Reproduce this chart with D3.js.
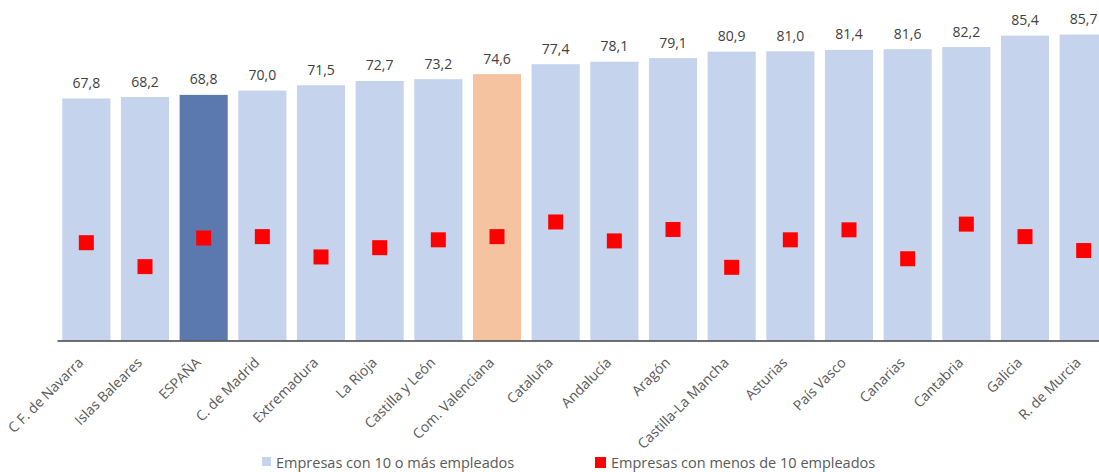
<!DOCTYPE html>
<html><head><meta charset="utf-8">
<script src="https://cdn.jsdelivr.net/npm/d3@7"></script>
<style>body{margin:0;background:#fff;} svg{display:block;}</style>
</head><body>
<svg id="c" width="1099" height="472"></svg>
<script>
const categories = ["C F. de Navarra","Islas Baleares","ESPAÑA","C. de Madrid","Extremadura","La Rioja","Castilla y León","Com. Valenciana","Cataluña","Andalucía","Aragón","Castilla-La Mancha","Asturias","País Vasco","Canarias","Cantabria","Galicia","R. de Murcia"];
const big = [67.8,68.2,68.8,70.0,71.5,72.7,73.2,74.6,77.4,78.1,79.1,80.9,81.0,81.4,81.6,82.2,85.4,85.7];
const small = [27.4,20.7,28.7,29.1,23.4,26.0,28.2,29.1,33.2,27.9,31.1,20.5,28.2,31.0,22.9,32.6,29.1,25.2];
const seriesNames = ["Empresas con 10 o más empleados","Empresas con menos de 10 empleados"];

const svg = d3.select("#c");
const font = "'Open Sans', 'Noto Sans', sans-serif";
const x = d3.scaleBand().domain(categories).range([57, 1113]).paddingInner(0.18).paddingOuter(0.09);
const y = d3.scaleLinear().domain([0, 90]).range([340.5, 19.2]);

const colorFor = c => c === "ESPAÑA" ? "#5B79AF" : (c === "Com. Valenciana" ? "#F5C3A0" : "#C5D4EC");

svg.append("g").selectAll("rect").data(categories).join("rect")
  .attr("x", d => x(d)).attr("width", x.bandwidth())
  .attr("y", (d,i) => y(big[i])).attr("height", (d,i) => y(0) - y(big[i]))
  .attr("fill", d => colorFor(d));

svg.append("g").selectAll("text").data(categories).join("text")
  .attr("x", d => x(d) + x.bandwidth()/2).attr("y", (d,i) => y(big[i]) - 10.5)
  .attr("text-anchor", "middle").attr("font-family", font).attr("font-size", 14)
  .attr("fill", "#404040").text((d,i) => big[i].toFixed(1).replace(".", ","));

svg.append("g").selectAll("rect").data(categories).join("rect")
  .attr("x", d => x(d) + x.bandwidth()/2 - 7.5).attr("width", 15)
  .attr("y", (d,i) => y(small[i]) - 7.5).attr("height", 15)
  .attr("fill", "#FF0000");

const ax = svg.append("g").attr("transform", `translate(0,${y(0)})`)
  .call(d3.axisBottom(x).tickSize(0).tickPadding(0));
ax.select(".domain").attr("stroke", "#404040").attr("stroke-width", 1.5);
ax.selectAll(".tick text")
  .attr("font-family", font).attr("font-size", 14).attr("fill", "#595959")
  .attr("text-anchor", "end").attr("dy", 0).attr("y", 0)
  .attr("transform", "translate(-2,23) rotate(-45)");

const leg = svg.append("g").attr("font-family", font).attr("font-size", 14.5).attr("fill", "#595959");
const legX = [262, 595];
const legColors = ["#C5D4EC", "#FF0000"];
seriesNames.forEach((n, i) => {
  leg.append("rect").attr("x", legX[i]).attr("y", 457).attr("width", i ? 11 : 9).attr("height", i ? 11 : 9).attr("fill", legColors[i]);
  leg.append("text").attr("x", legX[i] + (i ? 16 : 14)).attr("y", 467.5).text(n);
});
</script>
</body></html>
